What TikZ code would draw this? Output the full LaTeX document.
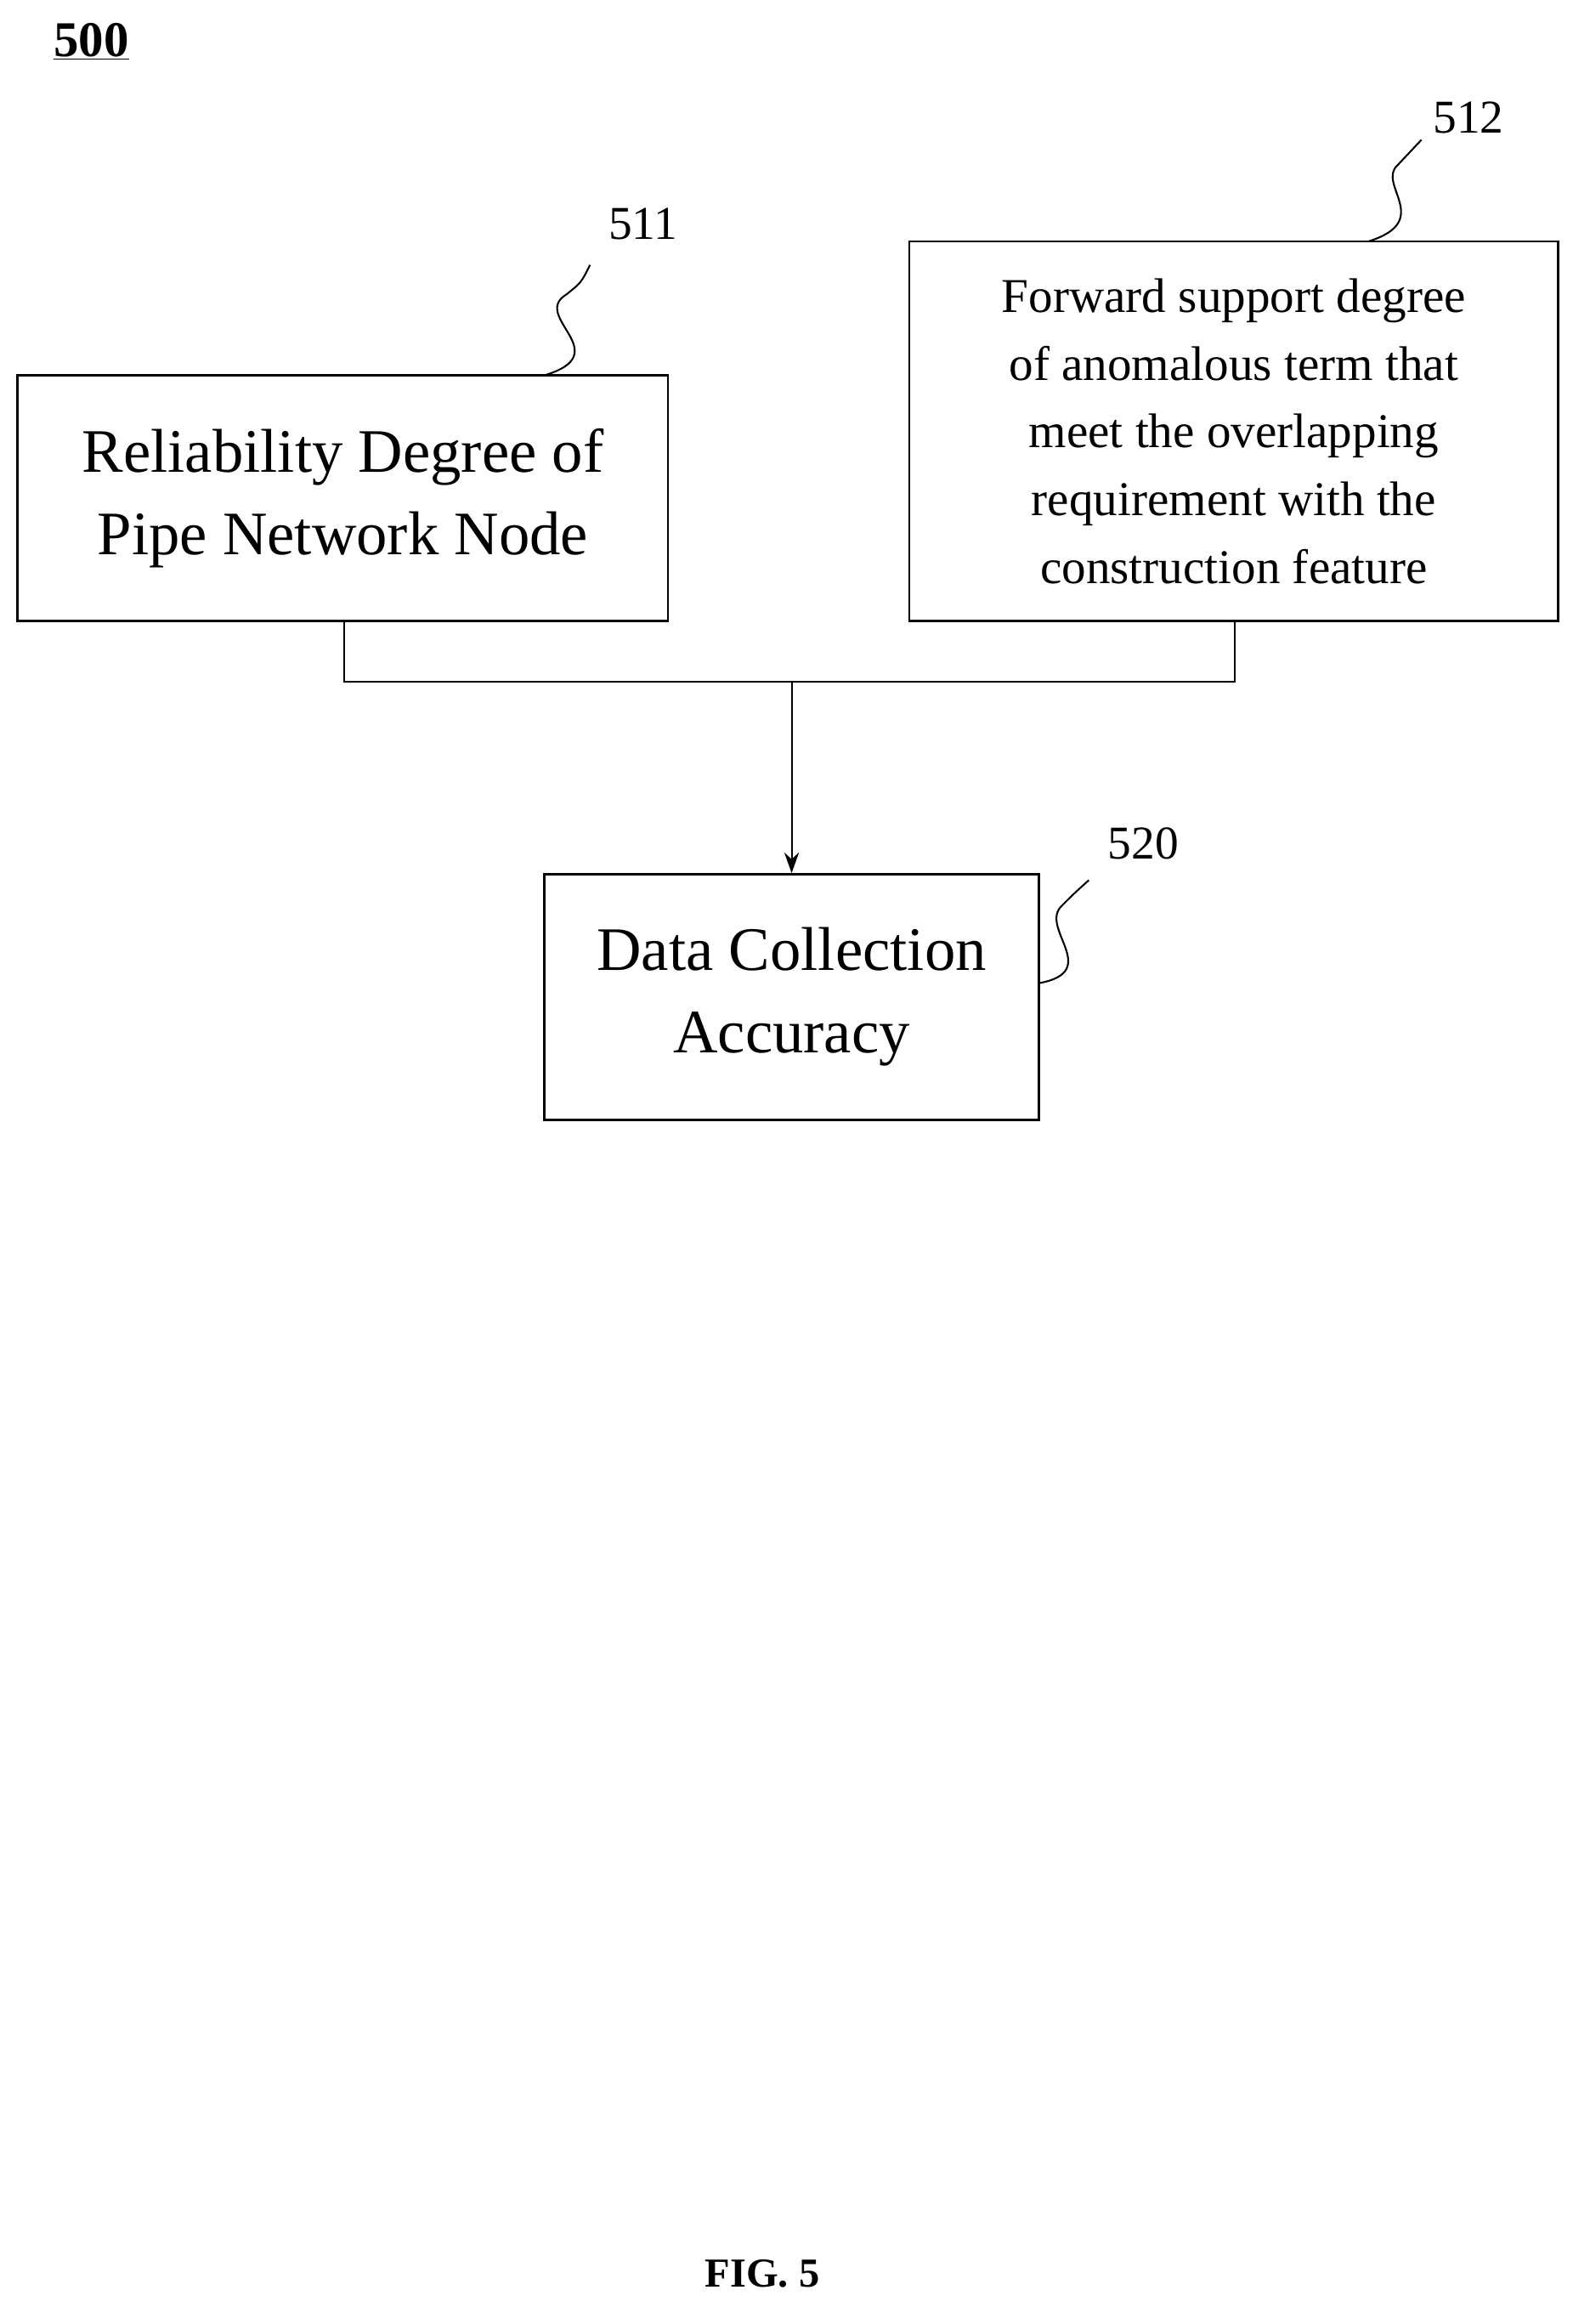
\documentclass[tikz,border=0pt]{standalone}
\usepackage{fontspec}
\setmainfont{Liberation Serif}
\usetikzlibrary{arrows.meta}
\begin{document}
\begin{tikzpicture}[x=1pt,y=-1pt,
  box/.style={draw,line width=1.6pt,align=center,inner sep=0pt},
  lbl/.style={font=\fontsize{32}{36}\selectfont},
  ln/.style={line width=1.2pt}]
\useasboundingbox (0,0) rectangle (1080,1579);
\node[font=\bfseries\fontsize{34}{38}\selectfont] (t) at (62,28) {\underline{500}};
\node[box,minimum width=442pt,minimum height=167pt,font=\fontsize{42}{56}\selectfont] (a) at (233,338.5) {Reliability Degree of\\Pipe Network Node};
\node[box,minimum width=441pt,minimum height=258pt,font=\fontsize{33}{46}\selectfont] (b) at (838.5,293) {Forward support degree\\of anomalous term that\\meet the overlapping\\requirement with the\\construction feature};
\node[box,minimum width=336pt,minimum height=167pt,font=\fontsize{42}{56}\selectfont] (c) at (538,677.5) {Data Collection\\Accuracy};
\coordinate (j) at (538,463);
\draw[ln] (234,422) |- (839,463) -- (839,422);
\draw[ln,-{Stealth[length=14pt,width=10pt]}] (j) -- (c.north);
\node[lbl] (la) at (437,152) {511};
\node[lbl] (lb) at (998,80) {512};
\node[lbl] (lc) at (777,573) {520};
\draw[ln] (370,255) .. controls (420,240) and (360,215) .. (385,200) .. controls (395,192) .. (401,180);
\draw[ln] (930,164) .. controls (975,150) and (935,125) .. (950,112) .. controls (958,104) .. (966,95);
\draw[ln] (706,668) .. controls (750,660) and (705,630) .. (722,615) .. controls (730,607) .. (740,598);
\node[font=\bfseries\fontsize{28}{32}\selectfont] (f) at (518,1545) {FIG. 5};
\end{tikzpicture}
\end{document}
